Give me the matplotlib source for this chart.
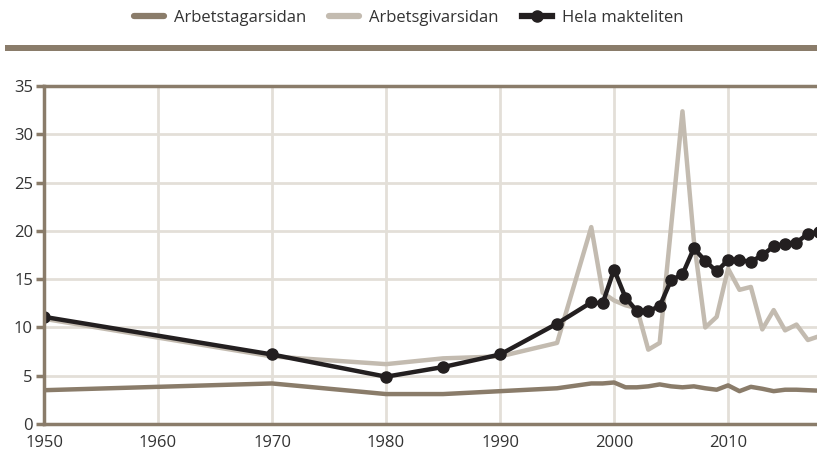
import matplotlib
matplotlib.use("Agg")
import matplotlib.pyplot as plt
from matplotlib.patches import Rectangle
from matplotlib.lines import Line2D

plt.rcParams['font.family'] = ['Open Sans', 'DejaVu Sans']

# --- data ---
years_hela = [1950, 1970, 1980, 1985, 1990, 1995, 1998, 1999, 2000, 2001, 2002, 2003,
              2004, 2005, 2006, 2007, 2008, 2009, 2010, 2011, 2012, 2013, 2014, 2015,
              2016, 2017, 2018]
hela = [11.1, 7.2, 4.9, 5.9, 7.2, 10.4, 12.6, 12.5, 16.0, 13.1, 11.7, 11.7,
        12.2, 14.9, 15.5, 18.2, 16.9, 15.8, 17.0, 17.0, 16.8, 17.5, 18.4, 18.7,
        18.8, 19.7, 19.9]

years_lines = years_hela
givar = [10.9, 7.0, 6.2, 6.8, 7.0, 8.4, 20.4, 13.6, 12.8, 12.3, 12.0, 7.7,
         8.4, 20.4, 32.4, 19.0, 10.0, 11.1, 16.1, 13.9, 14.2, 9.8, 11.8, 9.7,
         10.3, 8.7, 9.1]
tagar = [3.5, 4.2, 3.1, 3.1, 3.4, 3.7, 4.2, 4.2, 4.3, 3.8, 3.8, 3.9,
         4.1, 3.9, 3.8, 3.9, 3.7, 3.55, 4.0, 3.4, 3.85, 3.65, 3.4, 3.55,
         3.55, 3.5, 3.45]

labels = ["Arbetstagarsidan", "Arbetsgivarsidan", "Hela makteliten"]
x_ticks = [1950, 1960, 1970, 1980, 1990, 2000, 2010]
y_ticks = [0, 5, 10, 15, 20, 25, 30, 35]

# --- style ---
c_tagar = "#8a7c6a"
c_givar = "#c3bbb0"
c_hela = "#231f20"
c_axis = "#8a7c6a"
c_grid = "#e3dfd8"

fig = plt.figure(figsize=(8.17, 4.51), dpi=100)
ax = fig.add_axes([0.0539, 0.0599, 0.9461, 0.749])

ax.plot(years_lines, tagar, color=c_tagar, lw=3.2, solid_capstyle='round',
        solid_joinstyle='round', zorder=3)
ax.plot(years_lines, givar, color=c_givar, lw=3.2, solid_capstyle='round',
        solid_joinstyle='round', zorder=3)
ax.plot(years_hela, hela, color=c_hela, lw=3.2, marker='o', markersize=8,
        solid_joinstyle='round', zorder=4)

ax.set_xlim(1950, 2017.8)
ax.set_ylim(0, 35)
ax.set_xticks(x_ticks)
ax.set_yticks(y_ticks)
ax.grid(True, color=c_grid, lw=2)
ax.set_axisbelow(True)

ax.spines['right'].set_visible(False)
for s in ['left', 'bottom', 'top']:
    ax.spines[s].set_color(c_axis)
    ax.spines[s].set_linewidth(2.5)
ax.spines['left'].set_zorder(5)

ax.tick_params(axis='y', length=6, width=2.5, color=c_axis, labelsize=12,
               labelcolor='#333333', pad=2)
ax.tick_params(axis='x', length=0, labelsize=12, labelcolor='#333333', pad=8)

# band under legend
fig.patches.append(Rectangle((5 / 817, 1 - 51 / 451), 812 / 817, 6 / 451,
                             transform=fig.transFigure, facecolor=c_axis,
                             edgecolor='none'))

handles = [
    Line2D([], [], color=c_tagar, lw=4.5, solid_capstyle='round'),
    Line2D([], [], color=c_givar, lw=4.5, solid_capstyle='round'),
    Line2D([], [], color=c_hela, lw=4.5, marker='o', markersize=8),
]
fig.legend(handles, labels, loc='center', bbox_to_anchor=(0.5, 1 - 18 / 451),
           ncol=3, frameon=False, fontsize=12, handlelength=1.8,
           columnspacing=1.4, handletextpad=0.6, labelcolor='#333333')

fig.savefig("out.png", dpi=100)
